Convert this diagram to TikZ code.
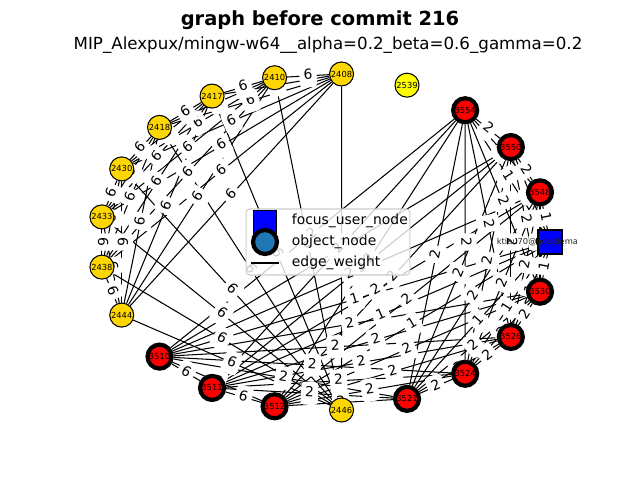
\documentclass[tikz,border=0pt]{standalone}
\usepackage{fontspec}
\setmainfont{DejaVu Sans}
\definecolor{gold}{HTML}{FFD700}
\definecolor{lyellow}{HTML}{FFFF00}
\definecolor{tabblue}{HTML}{1F77B4}
\definecolor{lgray}{gray}{0.8}
\pgfdeclarelayer{edgelayer}
\pgfdeclarelayer{labellayer}
\pgfdeclarelayer{toplayer}
\pgfdeclarelayer{legendlayer}
\pgfsetlayers{edgelayer,labellayer,main,toplayer,legendlayer}
\begin{document}
\begin{tikzpicture}[x=0.72pt,y=-0.72pt,
  base/.style={circle,inner sep=0pt,minimum size=17.3pt,draw=black,font=\fontsize{6}{7}\selectfont},
  ynode/.style={base,fill=gold,line width=0.75pt},
  lnode/.style={base,fill=lyellow,line width=0.75pt},
  rnode/.style={base,fill=red,line width=3pt},
  fnode/.style={rectangle,inner sep=0pt,minimum size=17.3pt,draw=black,fill=blue,line width=0.75pt},
  edge/.style={line width=0.75pt,black},
  elab/.style={fill=white,rounded corners=2.5pt,inner sep=3pt,font=\fontsize{10}{12}\selectfont,text height=8pt,text depth=2.5pt},
  legtext/.style={anchor=west,font=\fontsize{10}{12}\selectfont}
]
\useasboundingbox (0,0) rectangle (640,480);

% title
\node[anchor=base,font=\bfseries\fontsize{14}{16}\selectfont] (title) at (320,25) {graph before commit 216};
\node[anchor=base,font=\fontsize{12}{14}\selectfont] (subtitle) at (328,49) {MIP\_Alexpux/mingw-w64\_\_alpha=0.2\_beta=0.6\_gamma=0.2};

% nodes on an ellipse
\foreach \i/\lab/\sty in {0//fnode,1/3548/rnode,2/3550/rnode,3/3554/rnode,4/2539/lnode,
  5/2408/ynode,6/2410/ynode,7/2417/ynode,8/2418/ynode,9/2430/ynode,10/2433/ynode,
  11/2438/ynode,12/2444/ynode,13/3510/rnode,14/3511/rnode,15/3512/rnode,16/2446/ynode,
  17/3521/rnode,18/3524/rnode,19/3526/rnode,20/3530/rnode}
  \node[\sty] (n\i) at ({324.7+225.3*cos(360*\i/21)},{242-168.5*sin(360*\i/21)}) {\lab};

% clipped label of the focus user
\begin{pgfonlayer}{toplayer}
\begin{scope}
  \clip (80,57) rectangle (576,427);
  \node[font=\fontsize{6}{7}\selectfont,text=black!85] (ktext) at (n0.center) {ktieu70@googlemail.com};
\end{scope}
\end{pgfonlayer}

\def\edgelist{5/6/6,5/7/6,5/8/6,5/9/6,5/10/6,5/11/6,5/12/6,5/16/6,
6/7/6,6/8/6,6/9/6,6/10/6,6/11/6,6/12/6,6/16/6,
7/8/6,7/9/6,7/10/6,7/11/6,7/12/6,7/16/6,
8/9/6,8/10/6,8/11/6,8/12/6,8/16/6,
9/10/6,9/11/6,9/12/6,9/16/6,
10/11/6,10/12/6,10/16/6,
11/12/6,11/16/6,
12/16/6,
1/2/2,1/3/2,1/13/2,1/14/2,1/15/2,1/17/2,1/18/2,1/19/2,1/20/2,
2/3/2,2/13/2,2/14/2,2/15/2,2/17/2,2/18/2,2/19/2,2/20/2,
3/13/2,3/14/2,3/15/2,3/17/2,3/18/2,3/19/2,3/20/2,
13/14/6,13/15/6,13/17/2,13/18/2,13/19/2,13/20/2,
14/15/6,14/17/2,14/18/2,14/19/2,14/20/2,
15/17/2,15/18/2,15/19/2,15/20/2,
17/18/2,17/19/2,17/20/2,
18/19/2,18/20/2,
19/20/2,
0/1/1,0/2/1,0/3/1,0/13/1,0/14/1,0/15/1,0/17/1,0/18/1,0/19/1,0/20/1}

\begin{pgfonlayer}{edgelayer}
  \foreach \a/\b/\w in \edgelist
    \draw[edge] (n\a) -- (n\b);
\end{pgfonlayer}

\begin{pgfonlayer}{labellayer}
  \foreach \a/\b/\w in \edgelist
    \path (n\a.center) -- node[elab,sloped] {\w} (n\b.center);
\end{pgfonlayer}

% legend
\begin{pgfonlayer}{legendlayer}
  \node[draw=lgray,fill=white,fill opacity=0.8,rounded corners=2.5pt,minimum width=118pt,minimum height=47.5pt,line width=0.75pt] (legend) at (328,242) {};
  \node[fnode,minimum width=17pt,minimum height=16.5pt] (lsq) at (265,222) {};
  \node[base,fill=tabblue,line width=3pt] (lcirc) at (265,242) {};
  \coordinate (la) at (251,263);
  \coordinate (lb) at (279,263);
  \draw[edge] (la) -- (lb);
  \node[legtext] (t1) at (287,221) {focus\_user\_node};
  \node[legtext] (t2) at (287,242) {object\_node};
  \node[legtext] (t3) at (287,263) {edge\_weight};
\end{pgfonlayer}
\end{tikzpicture}
\end{document}
